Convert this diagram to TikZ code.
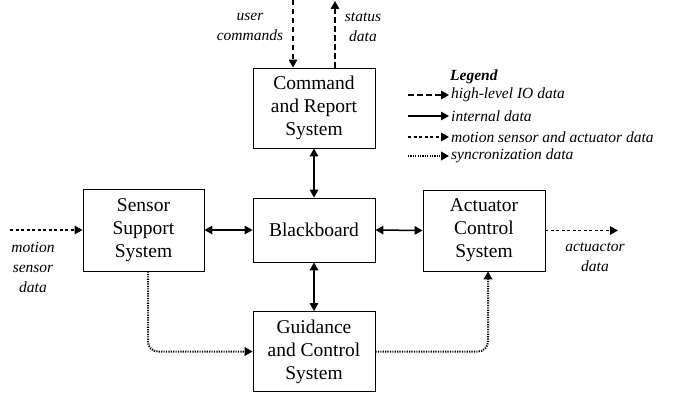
\documentclass[tikz,border=0pt]{standalone}
\usepackage{fontspec}
\setmainfont{Liberation Serif}
\newfontfamily\tnr{Liberation Serif}
\usetikzlibrary{arrows.meta,calc}
\begin{document}
\begin{tikzpicture}[x=1pt,y=-1pt,
  box/.style={draw,line width=0.9pt,align=center,inner sep=0pt,
    font=\tnr\fontsize{19.5}{23}\selectfont},
  lbl/.style={align=center,inner sep=0pt,font=\tnr\fontsize{15.5}{20}\selectfont\itshape},
  tip/.style={-{Triangle[length=8pt,width=8.5pt]}},
  hl/.style={tip,line width=1.5pt,dash pattern=on 5.5pt off 3.5pt},
  intl/.style={{Triangle[length=8pt,width=8.5pt]}-{Triangle[length=8pt,width=8.5pt]},line width=1.5pt},
  intone/.style={tip,line width=1.5pt},
  msd/.style={tip,line width=1.5pt,dash pattern=on 3pt off 2.5pt},
  syn/.style={tip,line width=2pt,dash pattern=on 1.2pt off 1.2pt}]
\useasboundingbox (0,0) rectangle (683,393);
% boxes
\node[box,minimum width=122pt,minimum height=80pt] (cmd) at (314,108) {Command\\and Report\\System};
\node[box,minimum width=121pt,minimum height=82pt] (ss) at (143.5,230) {Sensor\\Support\\System};
\node[box,minimum width=122pt,minimum height=64pt] (bb) at (314,230) {Blackboard};
\node[box,minimum width=122pt,minimum height=81pt] (act) at (484,230.5) {Actuator\\Control\\System};
\node[box,minimum width=122pt,minimum height=80pt] (gc) at (314,351.5) {Guidance\\and Control\\System};
% high-level IO
\coordinate (uc) at (293,0);
\coordinate (sd) at (335,1);
\draw[hl] (uc) -- (uc |- cmd.north);
\draw[hl] (sd |- cmd.north) -- (sd);
\node[lbl] (ucl) at (250,27) {user\\commands};
\node[lbl] (sdl) at (363,27) {status\\data};
% internal
\draw[intl] (cmd.south) -- (bb.north);
\draw[intl] (bb.south) -- (gc.north);
\draw[intl] (ss.east) -- (bb.west);
\draw[intl] (bb.east) -- (act.west);
% motion sensor / actuator
\coordinate (msin) at (10,230);
\coordinate (acout) at (618,230.5);
\draw[msd] (msin) -- (ss.west);
\draw[msd] (act.east) -- (acout);
\node[lbl] (msl) at (33,267) {motion\\sensor\\data};
\node[lbl] (acl) at (595,257) {actuactor\\data};
% sync
\draw[syn,rounded corners=10pt] ([xshift=4.5pt]ss.south) |- (gc.west);
\draw[syn,rounded corners=10pt] (gc.east) -| ([xshift=4pt]act.south);
% legend
\node[anchor=west,inner sep=0pt,font=\tnr\fontsize{15.5}{20}\selectfont\bfseries\itshape] (lg) at (450,77) {Legend};
\foreach \y/\st/\t [count=\i] in {95/hl/high-level IO data,116/intone/internal data,137/msd/motion sensor and actuator data,156/syn/syncronization data}{
  \coordinate (la\i) at (408,\y);
  \node[anchor=west,inner sep=0pt,font=\tnr\fontsize{15.5}{20}\selectfont\itshape] (lt\i) at (451,\y) {\t};
  \draw[\st] (la\i) -- ([xshift=-2pt]lt\i.west);
}
\end{tikzpicture}
\end{document}
